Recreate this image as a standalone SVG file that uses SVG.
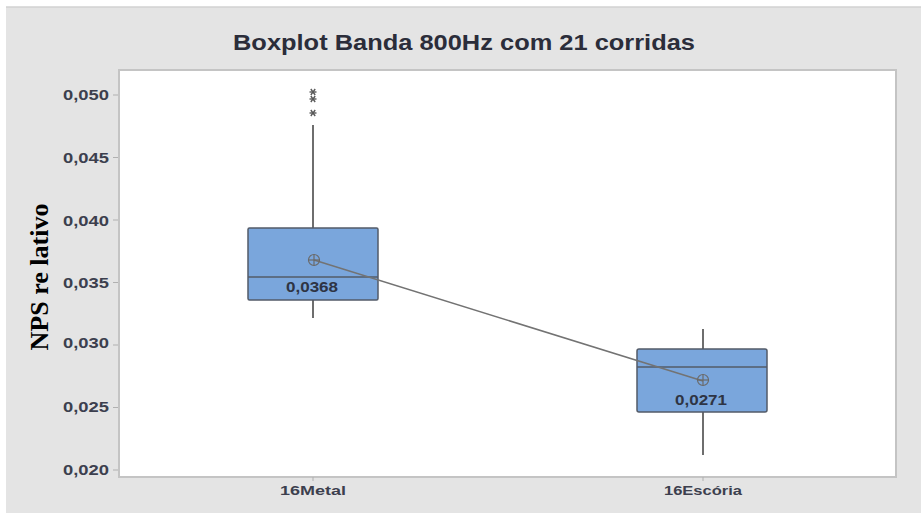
<svg xmlns="http://www.w3.org/2000/svg" xmlns:xlink="http://www.w3.org/1999/xlink" width="921" height="513" viewBox="0 0 921 513">
  <style>
    .tick { font-family: "Liberation Sans", Arial, sans-serif; font-weight: bold; font-size: 14px; fill: #3c3f4e; text-anchor: end; }
    .xlab { font-family: "Liberation Sans", Arial, sans-serif; font-weight: bold; font-size: 13px; fill: #3c3f4e; text-anchor: middle; }
    .val { font-family: "Liberation Sans", Arial, sans-serif; font-weight: bold; font-size: 14px; fill: #2e3444; text-anchor: middle; }
    .tk { stroke: #b0b0b0; stroke-width: 1; }
    .box { fill: #7aa6dc; stroke: #535b68; stroke-width: 1.5; }
    .med { stroke: #535b68; stroke-width: 1.5; }
    .wh { stroke: #6e6e6e; stroke-width: 2; }
    .mean { fill: none; stroke: #6a6a6a; stroke-width: 1.2; }
    .ast { stroke: #5a5a5a; stroke-width: 1.4; }
  </style>
  <defs>
    <g id="star">
      <line class="ast" x1="-3.5" y1="0" x2="3.5" y2="0"/>
      <line class="ast" x1="-2.2" y1="-3" x2="2.2" y2="3"/>
      <line class="ast" x1="-2.2" y1="3" x2="2.2" y2="-3"/>
    </g>
    <g id="meanMark">
      <circle class="mean" cx="0" cy="0" r="5.5"/>
      <line class="mean" x1="-5.5" y1="0" x2="5.5" y2="0"/>
      <line class="mean" x1="0" y1="-5.5" x2="0" y2="5.5"/>
    </g>
  </defs>

  <!-- page background -->
  <rect x="0" y="0" width="921" height="513" fill="#ffffff"/>
  <rect id="panel" x="6" y="7" width="915" height="506" fill="#e4e4e4"/>
  <line x1="6" y1="7" x2="921" y2="7" stroke="#d2d2d2" stroke-width="1.5"/>

  <g id="title">
    <text x="464" y="50" font-family="'Liberation Sans', Arial, sans-serif" font-weight="bold" font-size="22" fill="#2b2d3a" text-anchor="middle" textLength="462" lengthAdjust="spacingAndGlyphs">Boxplot Banda 800Hz com 21 corridas</text>
  </g>

  <g id="plot-area">
    <rect x="119" y="70" width="777" height="407" fill="#ffffff" stroke="#c4c4c4" stroke-width="2"/>
  </g>

  <g id="y-axis">
    <line class="tk" x1="113" y1="95" x2="118" y2="95"/>
    <line class="tk" x1="113" y1="157.5" x2="118" y2="157.5"/>
    <line class="tk" x1="113" y1="220" x2="118" y2="220"/>
    <line class="tk" x1="113" y1="282.5" x2="118" y2="282.5"/>
    <line class="tk" x1="113" y1="345" x2="118" y2="345"/>
    <line class="tk" x1="113" y1="407.5" x2="118" y2="407.5"/>
    <line class="tk" x1="113" y1="470" x2="118" y2="470"/>
    <text class="tick" x="109" y="100" textLength="46" lengthAdjust="spacingAndGlyphs">0,050</text>
    <text class="tick" x="109" y="163" textLength="46" lengthAdjust="spacingAndGlyphs">0,045</text>
    <text class="tick" x="109" y="226" textLength="46" lengthAdjust="spacingAndGlyphs">0,040</text>
    <text class="tick" x="109" y="288" textLength="46" lengthAdjust="spacingAndGlyphs">0,035</text>
    <text class="tick" x="109" y="348" textLength="46" lengthAdjust="spacingAndGlyphs">0,030</text>
    <text class="tick" x="109" y="412" textLength="46" lengthAdjust="spacingAndGlyphs">0,025</text>
    <text class="tick" x="109" y="475" textLength="46" lengthAdjust="spacingAndGlyphs">0,020</text>
    <text x="48" y="277" transform="rotate(-90 48 277)" font-family="'Liberation Serif', 'Times New Roman', serif" font-weight="bold" font-size="25" fill="#000000" text-anchor="middle" textLength="147" lengthAdjust="spacingAndGlyphs">NPS  re lativo</text>
  </g>

  <g id="x-axis">
    <line class="tk" x1="313" y1="477" x2="313" y2="481"/>
    <line class="tk" x1="703" y1="477" x2="703" y2="481"/>
    <text class="xlab" x="313" y="495" textLength="66" lengthAdjust="spacingAndGlyphs">16Metal</text>
    <text class="xlab" x="703" y="495" textLength="78" lengthAdjust="spacingAndGlyphs">16Escória</text>
  </g>

  <g id="box-metal">
    <line class="wh" x1="313" y1="125" x2="313" y2="228"/>
    <line class="wh" x1="313" y1="300" x2="313" y2="318"/>
    <rect class="box" x="248" y="228" width="130" height="72" rx="1.5"/>
    <line class="med" x1="248" y1="277" x2="378" y2="277"/>
    <use xlink:href="#star" href="#star" x="313" y="92"/>
    <use xlink:href="#star" href="#star" x="313" y="99"/>
    <use xlink:href="#star" href="#star" x="313" y="113"/>
    <text class="val" x="312" y="292" textLength="52" lengthAdjust="spacingAndGlyphs">0,0368</text>
  </g>

  <g id="box-escoria">
    <line class="wh" x1="703" y1="329" x2="703" y2="349"/>
    <line class="wh" x1="703" y1="412" x2="703" y2="455"/>
    <rect class="box" x="637" y="349" width="130" height="63" rx="2"/>
    <line class="med" x1="637" y1="367" x2="767" y2="367"/>
    <text class="val" x="701" y="405" textLength="52" lengthAdjust="spacingAndGlyphs">0,0271</text>
  </g>

  <g id="connectors">
    <line x1="314" y1="260" x2="703" y2="381" stroke="#737373" stroke-width="1.5"/>
    <use xlink:href="#meanMark" href="#meanMark" x="314" y="260"/>
    <use xlink:href="#meanMark" href="#meanMark" x="703" y="380"/>
  </g>
</svg>
